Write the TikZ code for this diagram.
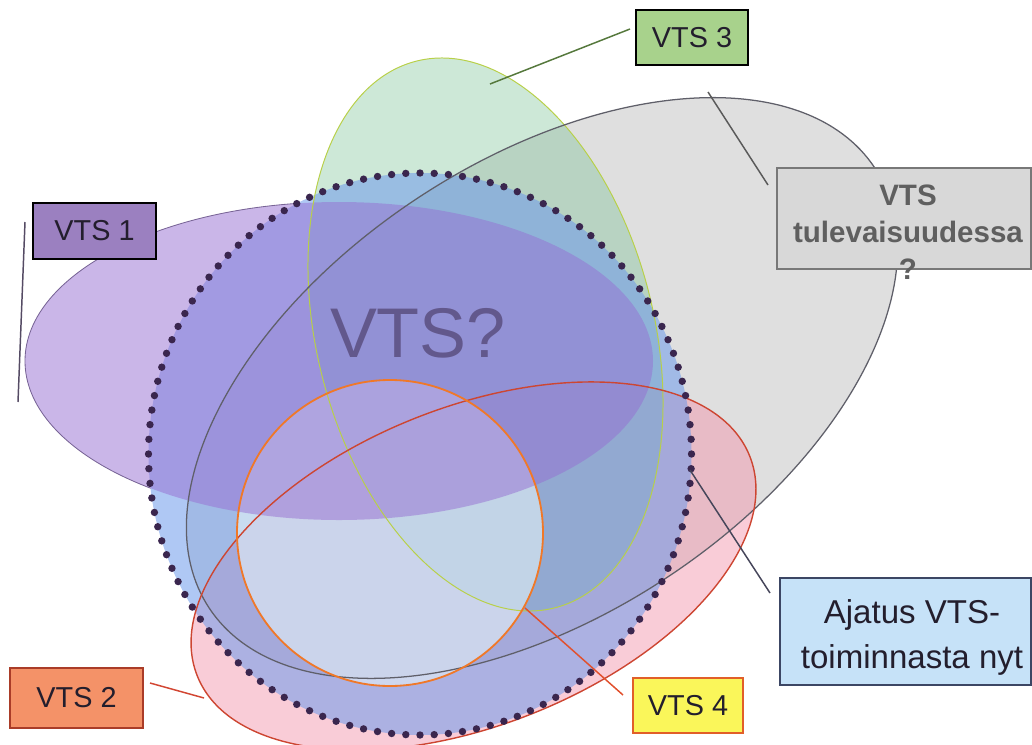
\documentclass[tikz,border=0pt]{standalone}
\usepackage{fontspec}
\setmainfont{Liberation Sans}
% fills of the overlapping areas
\definecolor{vGreen}{RGB}{112,189,141}
\definecolor{vPurple}{RGB}{150,110,210}
\definecolor{vBlue}{RGB}{110,155,235}
\definecolor{vGray}{RGB}{150,150,150}
\definecolor{vPink}{RGB}{242,142,167}
\definecolor{vPale}{RGB}{235,248,250}
% outlines and dots
\definecolor{dotC}{RGB}{58,38,78}
\definecolor{lnGreen}{RGB}{184,208,72}
\definecolor{lnGray}{RGB}{95,95,105}
\definecolor{lnRed}{RGB}{205,70,50}
\definecolor{lnOrange}{RGB}{240,120,40}
\definecolor{lnPurple}{RGB}{120,100,150}
% label boxes and their borders
\definecolor{bxPurple}{RGB}{155,128,192}
\definecolor{bxGreen}{RGB}{168,210,140}
\definecolor{bxOrange}{RGB}{244,146,104}
\definecolor{bxYellow}{RGB}{250,246,90}
\definecolor{bxBlue}{RGB}{198,226,248}
\definecolor{bxGray}{RGB}{216,216,216}
\definecolor{bdRed}{RGB}{170,60,40}
\definecolor{bdOrange}{RGB}{225,95,40}
\definecolor{bdGray}{RGB}{120,120,120}
\definecolor{bdBlue}{RGB}{60,70,100}
% texts
\definecolor{txDark}{RGB}{35,30,45}
\definecolor{txGray}{RGB}{95,95,95}
\definecolor{txBig}{RGB}{98,88,140}
% leader lines
\definecolor{ldPurple}{RGB}{85,75,100}
\definecolor{ldGreen}{RGB}{85,120,60}
\definecolor{ldGray}{RGB}{90,90,90}
\definecolor{ldRed}{RGB}{210,70,50}
\definecolor{ldOrange}{RGB}{225,80,45}
\definecolor{ldBlue}{RGB}{70,70,90}
\begin{document}
\begin{tikzpicture}[x=0.025cm,y=-0.025cm,
  tagbox/.style={draw, line width=0.9pt, inner sep=0pt, text=txDark,
    font=\fontsize{20.5pt}{24pt}\selectfont},
  wordnode/.style={inner sep=0pt, align=center},
  lead/.style={line width=1.05pt}]
\useasboundingbox (0,0) rectangle (1032,744);
\begin{scope}
\clip (0,0) rectangle (1032,744);

% translucent sets, from the back to the front
\fill[vGray, fill opacity=0.3, rotate around={33.5:(542,388)}]
  (542,388) ellipse [x radius=399, y radius=227];
\fill[vPink, fill opacity=0.45, rotate around={21.7:(473.5,566)}]
  (473.5,566) ellipse [x radius=297.3, y radius=158.9];
\fill[vGreen, fill opacity=0.35, rotate around={14.2:(485.5,334.5)}]
  (485.5,334.5) ellipse [x radius=168.6, y radius=282];
\fill[vBlue, fill opacity=0.55] (420,454) ellipse [x radius=271.5, y radius=281];
\fill[vPale, fill opacity=0.55] (390,533) circle [radius=153];
\fill[vPurple, fill opacity=0.5] (339,361) ellipse [x radius=314, y radius=159];

% edge of the purple set, only outside the dotted ring
\begin{scope}[even odd rule]
  \clip (0,0) rectangle (1032,744)
    (420,454) ellipse [x radius=271.5, y radius=281];
  \draw[lnPurple, line width=0.6pt] (339,361) ellipse [x radius=314, y radius=159];
\end{scope}

% outlines
\draw[lnGreen, line width=0.7pt, rotate around={14.2:(485.5,334.5)}]
  (485.5,334.5) ellipse [x radius=168.6, y radius=282];
\draw[lnGray, line width=0.9pt, rotate around={33.5:(542,388)}]
  (542,388) ellipse [x radius=399, y radius=227];
\draw[lnRed, line width=1pt, rotate around={21.7:(473.5,566)}]
  (473.5,566) ellipse [x radius=297.3, y radius=158.9];
\draw[lnOrange, line width=1.3pt] (390,533) circle [radius=153];

% dotted ring
\foreach \k in {0,...,119}
  \fill[dotC] ({420+271.5*cos(3*\k)},{454+281*sin(3*\k)}) circle [radius=3.7];
\end{scope}

% central question
\node[wordnode, text=txBig, font=\fontsize{50pt}{56pt}\selectfont] (q) at (418,333) {VTS?};

% label boxes
\node[tagbox, fill=bxPurple, minimum width=3.075cm, minimum height=1.4cm] (vts1) at (94.5,231) {VTS 1};
\node[tagbox, fill=bxGreen, minimum width=2.8cm, minimum height=1.375cm] (vts3) at (692,37.5) {VTS 3};
\node[tagbox, fill=bxOrange, draw=bdRed, minimum width=3.325cm, minimum height=1.5cm] (vts2) at (76.5,698) {VTS 2};
\node[tagbox, fill=bxYellow, draw=bdOrange, minimum width=2.75cm, minimum height=1.375cm] (vts4) at (688,705.5) {VTS 4};
\node[tagbox, fill=bxGray, draw=bdGray, minimum width=6.35cm, minimum height=2.525cm] (fut) at (904,218.5) {};
\node[wordnode, text=txGray, font=\bfseries\fontsize{21pt}{26.3pt}\selectfont] (futtext) at (908,232) {VTS\\tulevaisuudessa\\?};
\node[tagbox, fill=bxBlue, draw=bdBlue, minimum width=6.275cm, minimum height=2.675cm] (now) at (905.5,631.5) {};
\node[wordnode, text=txDark, font=\fontsize{23.5pt}{32pt}\selectfont] (nowtext) at (912,637) {Ajatus VTS-\\toiminnasta nyt};

% leader lines
\coordinate (l1a) at (25,222);   \coordinate (l1b) at (18,402);
\coordinate (l3a) at (490,84);   \coordinate (l3b) at (630,29);
\coordinate (lfa) at (708,92);   \coordinate (lfb) at (768,185);
\coordinate (l2a) at (150,683);  \coordinate (l2b) at (204,698);
\coordinate (l4a) at (525,608);  \coordinate (l4b) at (623,695);
\coordinate (lna) at (690,470);  \coordinate (lnb) at (770,593);
\draw[lead, ldPurple] (l1a) -- (l1b);
\draw[lead, ldGreen] (l3a) -- (l3b);
\draw[lead, ldGray] (lfa) -- (lfb);
\draw[lead, ldRed] (l2a) -- (l2b);
\draw[lead, ldOrange] (l4a) -- (l4b);
\draw[lead, ldBlue] (lna) -- (lnb);
\end{tikzpicture}
\end{document}
